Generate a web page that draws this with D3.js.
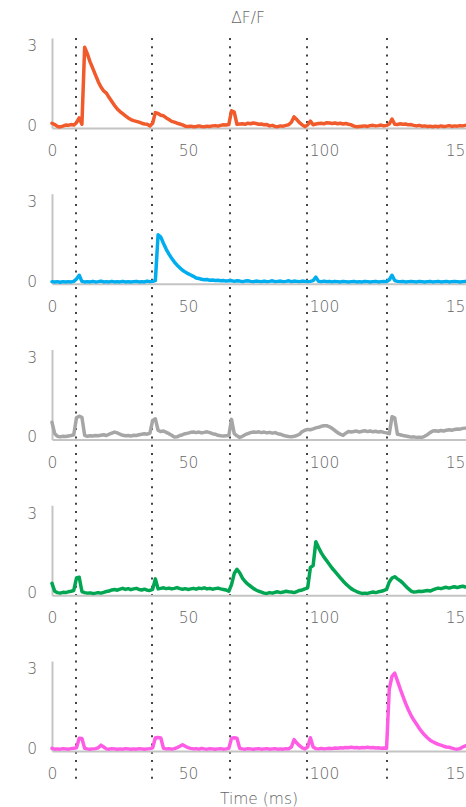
<!DOCTYPE html>
<html><head>
<meta charset="UTF-8">
<title>ΔF/F traces</title>
<script src="https://cdn.jsdelivr.net/npm/d3@7"></script>
<style>
  body { margin: 0; background: #fff; }
  svg { display: block; }
  .tick text { fill: #666; font-size: 15.5px; font-family: "DejaVu Sans", sans-serif; font-weight: 200; }
  .label { fill: #666; font-size: 15.5px; font-family: "DejaVu Sans", sans-serif; font-weight: 200; }
</style>
</head>
<body>
<svg id="chart" width="466" height="807"></svg>
<script>
// tick labels and stimulus markers (ms)
const xTickValues = [0, 50, 100, 150];
const yTickValues = [0, 3];
const stimulusTimes = [8.8, 36.9, 65.4, 93.7, 123.0];

// dF/F traces, one sample per ms starting at 0 ms
const orangeTrace = [
  0.08, 0.03, -0.04, -0.06, -0.03, 0.01, 0.00, 0.03, 0.01, 0.10,
  0.28, 0.04, 2.95, 2.70, 2.40, 2.15, 1.90, 1.65, 1.45, 1.30,
  1.22, 1.05, 0.90, 0.75, 0.62, 0.52, 0.44, 0.36, 0.28, 0.22,
  0.18, 0.15, 0.12, 0.08, 0.05, 0.04, -0.02, 0.08, 0.48, 0.45,
  0.38, 0.36, 0.28, 0.22, 0.15, 0.12, 0.08, 0.05, 0.02, -0.03,
  -0.04, -0.03, -0.05, -0.04, -0.02, -0.04, -0.05, -0.03, -0.04, -0.02,
  -0.01, -0.03, 0.00, 0.02, 0.01, 0.03, 0.55, 0.50, 0.04, 0.05,
  0.06, 0.04, 0.08, 0.06, 0.09, 0.07, 0.04, 0.05, 0.02, 0.03,
  -0.02, 0.00, -0.04, -0.05, -0.02, -0.03, 0.00, 0.02, 0.12, 0.32,
  0.22, 0.10, 0.02, -0.05, 0.02, 0.16, 0.02, 0.05, 0.07, 0.08,
  0.06, 0.10, 0.09, 0.07, 0.09, 0.06, 0.08, 0.05, 0.07, 0.04,
  0.02, -0.03, -0.05, -0.04, -0.03, -0.02, -0.04, -0.01, 0.00, -0.02,
  -0.01, 0.01, -0.02, 0.00, 0.05, 0.24, 0.04, 0.03, 0.06, 0.04,
  0.05, 0.02, 0.03, 0.00, -0.02, 0.00, -0.03, -0.02, -0.04, -0.03,
  -0.05, -0.03, -0.05, -0.02, -0.04, -0.03, -0.01, -0.04, -0.02, -0.03,
  -0.01, -0.02, 0.00
];
const blueTrace = [
  -0.02, -0.03, -0.02, -0.04, -0.02, -0.03, -0.02, -0.03, -0.01, 0.08,
  0.22, -0.01, -0.03, -0.02, -0.03, -0.01, -0.03, -0.02, 0.00, -0.03,
  -0.02, -0.03, -0.01, -0.03, -0.02, -0.03, -0.01, -0.03, -0.02, -0.03,
  -0.02, -0.01, -0.03, -0.02, -0.03, 0.00, -0.02, -0.01, 0.02, 1.75,
  1.66, 1.42, 1.20, 1.02, 0.86, 0.72, 0.60, 0.50, 0.41, 0.34,
  0.28, 0.23, 0.18, 0.12, 0.10, 0.07, 0.05, 0.06, 0.03, 0.04,
  0.02, 0.03, 0.01, 0.02, 0.00, 0.01, 0.02, -0.01, 0.01, 0.00,
  -0.02, 0.00, 0.01, -0.01, -0.02, 0.00, -0.01, -0.02, 0.00, -0.02,
  -0.01, 0.01, -0.02, -0.01, 0.00, -0.02, -0.01, 0.01, -0.02, 0.00,
  -0.01, -0.02, 0.00, -0.01, -0.02, -0.01, 0.02, 0.15, -0.01, -0.02,
  0.00, -0.02, -0.01, -0.03, -0.01, -0.02, -0.03, -0.01, -0.02, -0.03,
  -0.02, -0.01, -0.03, -0.02, -0.03, -0.01, -0.02, -0.03, -0.02, -0.01,
  -0.03, -0.02, -0.01, -0.02, 0.05, 0.22, 0.02, -0.01, -0.02, -0.01,
  -0.03, -0.02, -0.01, -0.02, -0.03, -0.01, -0.02, -0.03, -0.02, -0.01,
  -0.03, -0.02, -0.01, -0.03, -0.02, -0.01, -0.03, -0.02, -0.01, -0.02,
  -0.03, -0.02, -0.01
];
const grayTrace = [
  0.55, 0.12, 0.02, 0.00, 0.02, 0.01, 0.03, 0.05, 0.08, 0.72,
  0.78, 0.74, 0.06, 0.02, 0.04, 0.03, 0.05, 0.04, 0.06, 0.08,
  0.05, 0.10, 0.14, 0.18, 0.15, 0.10, 0.06, 0.04, 0.05, 0.03,
  0.06, 0.05, 0.08, 0.10, 0.12, 0.10, 0.14, 0.62, 0.68, 0.25,
  0.20, 0.22, 0.17, 0.12, 0.06, -0.01, 0.00, 0.05, 0.08, 0.12,
  0.14, 0.17, 0.18, 0.16, 0.18, 0.15, 0.17, 0.19, 0.16, 0.12,
  0.10, 0.06, 0.04, 0.03, 0.04, 0.05, 0.66, 0.12, 0.04, -0.02,
  0.02, 0.08, 0.12, 0.16, 0.18, 0.17, 0.19, 0.16, 0.18, 0.15,
  0.17, 0.14, 0.16, 0.12, 0.10, 0.06, 0.03, 0.01, 0.00, 0.02,
  0.05, 0.10, 0.20, 0.25, 0.28, 0.27, 0.30, 0.34, 0.36, 0.40,
  0.42, 0.42, 0.38, 0.32, 0.24, 0.16, 0.10, 0.06, 0.14, 0.20,
  0.18, 0.20, 0.22, 0.18, 0.21, 0.23, 0.20, 0.22, 0.19, 0.21,
  0.18, 0.20, 0.17, 0.15, 0.12, 0.76, 0.72, 0.10, 0.08, 0.05,
  0.03, 0.01, -0.01, 0.00, -0.02, -0.01, -0.02, 0.02, 0.08, 0.16,
  0.22, 0.23, 0.21, 0.24, 0.22, 0.25, 0.27, 0.25, 0.28, 0.30,
  0.29, 0.32, 0.33
];
const greenTrace = [
  0.35, 0.05, 0.00, -0.02, 0.01, 0.00, 0.03, 0.05, 0.08, 0.55,
  0.58, 0.04, 0.00, -0.02, -0.01, -0.03, -0.02, 0.00, -0.02, 0.01,
  0.04, 0.06, 0.10, 0.12, 0.09, 0.13, 0.16, 0.12, 0.15, 0.11,
  0.14, 0.16, 0.12, 0.10, 0.13, 0.09, 0.08, 0.12, 0.52, 0.14,
  0.16, 0.18, 0.15, 0.17, 0.14, 0.16, 0.19, 0.15, 0.13, 0.15,
  0.12, 0.14, 0.16, 0.13, 0.17, 0.15, 0.18, 0.14, 0.16, 0.13,
  0.15, 0.17, 0.14, 0.12, 0.10, 0.05, 0.30, 0.72, 0.88, 0.75,
  0.55, 0.42, 0.32, 0.24, 0.16, 0.10, 0.05, 0.02, -0.02, -0.03,
  0.00, -0.02, 0.01, 0.03, 0.00, 0.02, 0.05, 0.03, 0.02, 0.00,
  0.04, 0.08, 0.10, 0.14, 0.18, 0.95, 1.02, 1.92, 1.70, 1.50,
  1.34, 1.20, 1.06, 0.92, 0.80, 0.68, 0.56, 0.44, 0.33, 0.24,
  0.15, 0.09, 0.04, 0.00, -0.03, -0.02, -0.03, 0.00, 0.02, 0.00,
  0.03, 0.05, 0.08, 0.12, 0.40, 0.55, 0.60, 0.52, 0.45, 0.36,
  0.25, 0.15, 0.06, 0.02, 0.03, 0.05, 0.04, 0.06, 0.08, 0.06,
  0.10, 0.14, 0.17, 0.15, 0.18, 0.20, 0.17, 0.20, 0.22, 0.19,
  0.22, 0.24, 0.21
];
const magentaTrace = [
  0.00, -0.03, -0.02, -0.03, -0.01, -0.02, -0.03, -0.01, 0.00, 0.02,
  0.38, 0.37, 0.00, -0.02, -0.03, -0.02, -0.01, 0.02, 0.12, 0.05,
  -0.02, -0.03, -0.01, -0.02, -0.03, -0.02, -0.03, -0.01, -0.02, -0.03,
  -0.02, -0.03, -0.01, -0.02, -0.03, -0.02, -0.01, 0.02, 0.40, 0.41,
  0.39, 0.00, -0.02, -0.01, -0.03, -0.01, 0.03, 0.08, 0.14, 0.08,
  0.03, 0.00, -0.02, -0.01, -0.03, 0.00, -0.02, -0.03, -0.01, -0.02,
  -0.03, -0.02, -0.01, -0.03, -0.02, 0.00, 0.38, 0.40, 0.38, 0.00,
  -0.02, -0.03, -0.01, -0.02, -0.03, -0.02, -0.01, -0.03, -0.02, -0.01,
  -0.03, -0.02, -0.01, -0.03, -0.02, -0.03, -0.01, -0.02, 0.05, 0.33,
  0.20, 0.10, 0.02, -0.02, 0.05, 0.40, 0.05, -0.01, -0.02, 0.00,
  -0.02, -0.01, 0.00, -0.01, 0.01, 0.00, 0.02, 0.01, 0.03, 0.02,
  0.04, 0.02, 0.03, 0.01, 0.03, 0.02, 0.04, 0.02, 0.03, 0.01,
  0.02, 0.00, 0.01, 0.00, 2.25, 2.72, 2.84, 2.55, 2.25, 1.97,
  1.70, 1.46, 1.25, 1.07, 0.92, 0.76, 0.62, 0.50, 0.40, 0.31,
  0.25, 0.20, 0.15, 0.12, 0.08, 0.05, 0.04, 0.01, -0.02, -0.03,
  -0.01, 0.05, 0.10
];

const traces = [orangeTrace, blueTrace, grayTrace, greenTrace, magentaTrace];
const traceColors = ["#F15A2B", "#00AEEF", "#A6A6A6", "#00A651", "#FF5CE6"];

const panelTop = 38;
const panelHeight = 90;
const panelStep = 155.75;

const svg = d3.select("#chart");

const x = d3.scaleLinear().domain([0, 155]).range([52, 52 + 155 * 2.72]);
const y = d3.scaleLinear().domain([-0.1, 3.3]).range([panelHeight, 0]);

// dotted stimulus markers spanning all panels
svg.append("g")
  .selectAll("line")
  .data(stimulusTimes)
  .join("line")
  .attr("x1", d => Math.round(x(d)))
  .attr("x2", d => Math.round(x(d)))
  .attr("y1", 38)
  .attr("y2", 779)
  .attr("stroke", "#444")
  .attr("stroke-width", 2)
  .attr("stroke-dasharray", "2 6.3");

const line = d3.line()
  .x((d, i) => x(i))
  .y(d => y(d));

traces.forEach((values, i) => {
  const panel = svg.append("g")
    .attr("transform", `translate(0,${panelTop + i * panelStep})`);

  const xAxis = panel.append("g")
    .attr("transform", `translate(0,${panelHeight})`)
    .call(d3.axisBottom(x).tickValues(xTickValues).tickFormat(d3.format("d"))
      .tickSize(0).tickSizeOuter(0).tickPadding(17));

  const yAxis = panel.append("g")
    .attr("transform", "translate(52,0)")
    .call(d3.axisLeft(y).tickValues(yTickValues).tickFormat(d3.format("d"))
      .tickSize(0).tickSizeOuter(0).tickPadding(15));

  [xAxis, yAxis].forEach(a => a.select(".domain")
    .attr("stroke", "#c4c4c4")
    .attr("stroke-width", 2));

  panel.append("path")
    .datum(values)
    .attr("d", line)
    .attr("fill", "none")
    .attr("stroke", traceColors[i])
    .attr("stroke-width", 3.5)
    .attr("stroke-linejoin", "round")
    .attr("stroke-linecap", "round");
});

svg.append("text")
  .attr("class", "label")
  .attr("x", 248)
  .attr("y", 18)
  .attr("dy", "0.35em")
  .attr("text-anchor", "middle")
  .text("ΔF/F");

svg.append("text")
  .attr("class", "label")
  .attr("x", 259)
  .attr("y", 799)
  .attr("dy", "0.35em")
  .attr("text-anchor", "middle")
  .text("Time (ms)");
</script>
</body>
</html>
